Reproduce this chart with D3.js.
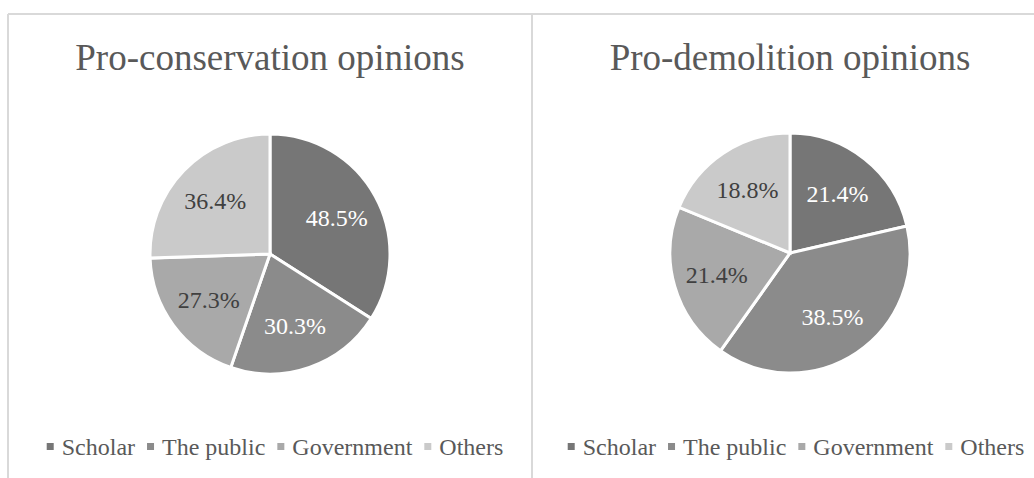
<!DOCTYPE html>
<html>
<head>
<meta charset="utf-8">
<script src="https://cdn.jsdelivr.net/npm/d3@7"></script>
<style>
  html, body { margin: 0; padding: 0; background: #fff; }
  svg { display: block; }
</style>
</head>
<body>
<svg id="chart" width="1034" height="478"></svg>
<script>
const categories = ["Scholar", "The public", "Government", "Others"];
const conservationValues = [48.5, 30.3, 27.3, 36.4];
const demolitionValues = [21.4, 38.5, 21.4, 18.8];
const chartTitles = ["Pro-conservation opinions", "Pro-demolition opinions"];
const sliceColors = ["#767676", "#8b8b8b", "#a9a9a9", "#cacaca"];
const labelColors = ["#ffffff", "#ffffff", "#404040", "#404040"];

const FONT = "'Liberation Serif', 'Times New Roman', Tinos, 'DejaVu Serif', serif";
const svg = d3.select("#chart").style("font-family", FONT);
const W = 1034, H = 478;

// panel borders
const border = svg.append("g").attr("stroke", "#d9d9d9").attr("stroke-width", 2).attr("fill", "none");
border.append("line").attr("x1", 8).attr("x2", W).attr("y1", 14).attr("y2", 14);
border.append("line").attr("x1", 8).attr("x2", 8).attr("y1", 14).attr("y2", H);
border.append("line").attr("x1", 532).attr("x2", 532).attr("y1", 14).attr("y2", H);

const panels = [
  { title: chartTitles[0], values: conservationValues, cx: 270, cy: 254, legendCx: 275 },
  { title: chartTitles[1], values: demolitionValues, cx: 790, cy: 253, legendCx: 796 }
];

const color = d3.scaleOrdinal().domain(categories).range(sliceColors);
const labelColor = d3.scaleOrdinal().domain(categories).range(labelColors);
const R = 120;
const pie = d3.pie().sort(null).value(d => d.value);
const arc = d3.arc().innerRadius(0).outerRadius(R);
const labelArc = d3.arc().innerRadius(R * 0.635).outerRadius(R * 0.635);

panels.forEach(p => {
  const g = svg.append("g");
  g.append("text")
    .attr("x", p.cx).attr("y", 70)
    .attr("text-anchor", "middle")
    .attr("font-family", FONT)
    .attr("font-size", 37)
    .attr("fill", "#595959")
    .text(p.title);

  const data = categories.map((c, i) => ({ cat: c, value: p.values[i] }));
  const arcs = pie(data);
  const pg = g.append("g").attr("transform", `translate(${p.cx},${p.cy})`);
  pg.selectAll("path").data(arcs).join("path")
    .attr("d", arc)
    .attr("fill", d => color(d.data.cat))
    .attr("stroke", "#fff")
    .attr("stroke-width", 3)
    .attr("stroke-linejoin", "miter");
  pg.selectAll("text").data(arcs).join("text")
    .attr("transform", d => `translate(${labelArc.centroid(d)})`)
    .attr("text-anchor", "middle")
    .attr("dy", "0.35em")
    .attr("font-family", FONT)
    .attr("font-size", 24)
    .attr("fill", d => labelColor(d.data.cat))
    .text(d => d.data.value.toFixed(1) + "%");

  // legend
  const lg = g.append("g");
  const items = lg.selectAll("g").data(categories).join("g");
  items.append("rect").attr("width", 7).attr("height", 7).attr("y", -7).attr("fill", d => color(d));
  items.append("text").attr("x", 15).attr("y", 5)
    .attr("font-family", FONT)
    .attr("font-size", 24).attr("fill", "#595959").text(d => d);
  let x = 0;
  const positions = [];
  items.each(function() {
    const w = d3.select(this).select("text").node().getComputedTextLength();
    positions.push(x);
    x += 15 + w + 12;
  });
  const total = x - 12;
  items.attr("transform", (d, i) => `translate(${positions[i]},0)`);
  lg.attr("transform", `translate(${p.legendCx - total / 2},450)`);
});
</script>
</body>
</html>
